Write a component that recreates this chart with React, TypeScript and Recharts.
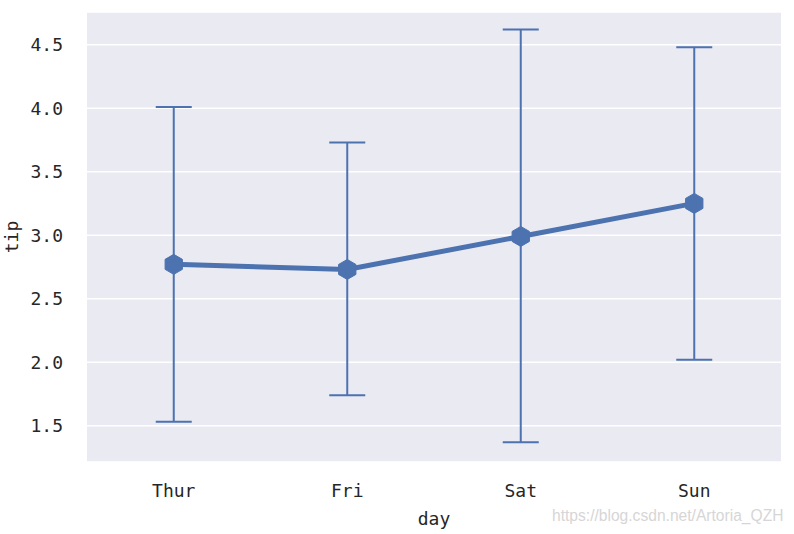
import React from 'react';
import { ComposedChart, CartesianGrid, XAxis, YAxis, Line, ErrorBar } from 'recharts';

const days = ['Thur', 'Fri', 'Sat', 'Sun'];
const tipMean = [2.77, 2.73, 2.99, 3.25];
const tipLow = [1.53, 1.74, 1.37, 2.02];
const tipHigh = [4.01, 3.73, 4.62, 4.48];
const yTicks = [1.5, 2.0, 2.5, 3.0, 3.5, 4.0, 4.5];

const BLUE = '#4C72B0';
const TEXT = '#262626';
const FONT = '"DejaVu Sans Mono", "Liberation Mono", monospace';

const rows = days.map((day, i) => ({
  day,
  tip: tipMean[i],
  err: [tipMean[i] - tipLow[i], tipHigh[i] - tipMean[i]],
}));

const HexDot: React.FC<any> = ({ cx, cy }) => {
  if (cx == null || cy == null) return null;
  const r = 10;
  const pts = [0, 1, 2, 3, 4, 5]
    .map((k) => {
      const a = (Math.PI / 3) * k - Math.PI / 2;
      return `${cx + r * Math.cos(a)},${cy + r * Math.sin(a)}`;
    })
    .join(' ');
  return <polygon points={pts} fill={BLUE} stroke={BLUE} strokeWidth={1} />;
};

const YLabel: React.FC<any> = ({ viewBox }) => {
  const x = viewBox.x + 11;
  const y = viewBox.y + viewBox.height / 2;
  return (
    <text x={x} y={y} transform={`rotate(-90 ${x} ${y})`} textAnchor="middle" dominantBaseline="central"
      fill={TEXT} fontFamily={FONT} fontSize={18}>
      tip
    </text>
  );
};

const XLabel: React.FC<any> = ({ viewBox }) => {
  const x = viewBox.x + viewBox.width / 2;
  return (
    <text x={x} y={viewBox.y + 63} textAnchor="middle" fill={TEXT} fontFamily={FONT} fontSize={18}>
      day
    </text>
  );
};

const App: React.FC = () => {
  return (
    <div style={{ position: 'absolute', left: 0, top: 0, width: 794, height: 534, background: '#fff' }}>
      <ComposedChart width={794} height={534} data={rows} margin={{ top: 12, right: 13, bottom: 0, left: 0 }}>
        <CartesianGrid horizontal vertical={false} stroke="#ffffff" strokeWidth={1.5} fill="#EAEAF2" fillOpacity={1} />
        <XAxis
          dataKey="day"
          height={72}
          padding={{ left: 86.75, right: 86.75 }}
          axisLine={false}
          tickLine={false}
          tickSize={0}
          tickMargin={22}
          tick={{ fill: TEXT, fontFamily: FONT, fontSize: 18 }}
          label={<XLabel />}
        />
        <YAxis
          width={87}
          type="number"
          domain={[1.214, 4.757]}
          ticks={yTicks}
          tickFormatter={(v: number) => v.toFixed(1)}
          axisLine={false}
          tickLine={false}
          tickSize={0}
          tickMargin={24}
          tick={{ fill: TEXT, fontFamily: FONT, fontSize: 18 }}
          label={<YLabel />}
          allowDataOverflow
        />
        <Line
          dataKey="tip"
          stroke={BLUE}
          strokeWidth={5}
          dot={<HexDot />}
          activeDot={false}
          isAnimationActive={false}
        >
          <ErrorBar dataKey="err" direction="y" width={18} stroke={BLUE} strokeWidth={2} isAnimationActive={false} />
        </Line>
      </ComposedChart>
      <div
        style={{
          position: 'absolute',
          left: 552,
          top: 507,
          fontFamily: '"Liberation Sans", Arial, sans-serif',
          fontSize: 15.6,
          color: '#d6d6d6',
          whiteSpace: 'nowrap',
        }}
      >
        https://blog.csdn.net/Artoria_QZH
      </div>
    </div>
  );
};

export default App;
